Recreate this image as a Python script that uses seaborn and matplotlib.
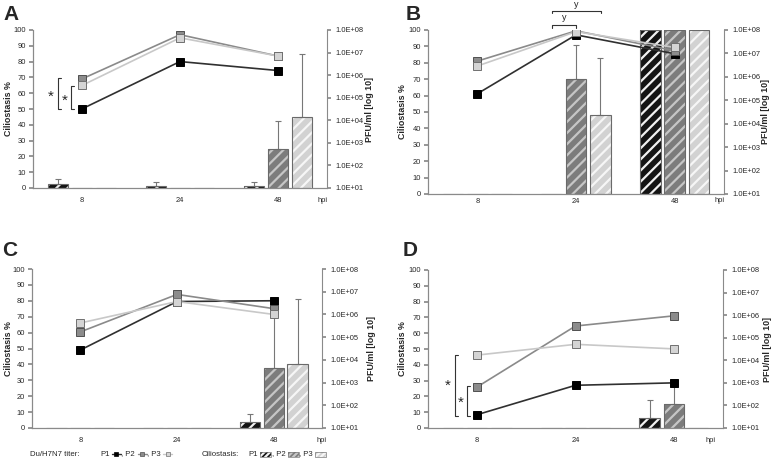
import matplotlib
matplotlib.use('Agg')
import matplotlib.pyplot as plt
import seaborn as sns
import pandas as pd
from matplotlib.patches import Rectangle
from matplotlib.lines import Line2D

# categories
hpi = ['8', '24', '48']
passages = ['P1', 'P2', 'P3']

# ciliostasis % (bars) and upper error
cilio_A = {'P1': [2.5, 1, 1], 'P2': [0, 0, 25], 'P3': [0, 0, 45]}
err_A = {'P1': [3, 2.5, 2.5], 'P2': [0, 0, 17.5], 'P3': [0, 0, 39.5]}
cilio_B = {'P1': [0, 0, 100], 'P2': [0, 70, 100], 'P3': [0, 48, 100]}
err_B = {'P1': [0, 0, 0], 'P2': [0, 21, 0], 'P3': [0, 35, 0]}
cilio_C = {'P1': [0, 0, 3.5], 'P2': [0, 0, 37.5], 'P3': [0, 0, 40]}
err_C = {'P1': [0, 0, 5], 'P2': [0, 0, 34], 'P3': [0, 0, 41]}
cilio_D = {'P1': [0, 0, 6.5], 'P2': [0, 0, 15], 'P3': [0, 0, 0]}
err_D = {'P1': [0, 0, 11.5], 'P2': [0, 0, 14], 'P3': [0, 0, 0]}

# Du/H7N7 titer, PFU/ml (lines)
titer_A = {'P1': [3.2e4, 4.0e6, 1.6e6], 'P2': [6.8e5, 6.2e7, 7.0e6], 'P3': [3.5e5, 4.5e7, 7.0e6]}
titer_B = {'P1': [1.9e5, 6.2e7, 9.7e6], 'P2': [4.7e6, 9.2e7, 1.3e7], 'P3': [2.9e6, 8.5e7, 1.8e7]}
titer_C = {'P1': [2.7e4, 3.7e6, 4.0e6], 'P2': [1.7e5, 7.6e6, 1.8e6], 'P3': [4.2e5, 3.7e6, 1.0e6]}
titer_D = {'P1': [39, 780, 1.0e3], 'P2': [660, 3.3e5, 9.3e5], 'P3': [1.7e4, 5.1e4, 3.2e4]}

bar_face = {'P1': '#141414', 'P2': '#7c7c7c', 'P3': '#d2d2d2'}
bar_hatch = {'P1': '#f0f0f0', 'P2': '#c6c6c6', 'P3': '#f6f6f6'}
line_col = {'P1': '#303030', 'P2': '#8a8a8a', 'P3': '#c8c8c8'}
mk_face = {'P1': '#000000', 'P2': '#8c8c8c', 'P3': '#d4d4d4'}
mk_edge = {'P1': '#000000', 'P2': '#505050', 'P3': '#707070'}

sns.set_theme(style='white')
plt.rcParams['font.family'] = ['Liberation Sans', 'DejaVu Sans']
plt.rcParams['hatch.linewidth'] = 1.6

W, H = 774, 463
fig = plt.figure(figsize=(W / 100, H / 100), dpi=100)
GREY = '#8a8a8a'
TFS = 5.4


def box(l, r, t, b):
    return [l / W, 1 - b / H, (r - l) / W, (b - t) / H]


def draw_panel(rect, cilio, err, titer, pad, hpi_dx, lab_l, lab_r):
    l, r, t, b = rect
    ax = fig.add_axes(box(*rect))
    df = pd.DataFrame([(h, p, cilio[p][i]) for p in passages for i, h in enumerate(hpi)],
                      columns=['hpi', 'passage', 'cilio'])
    sns.barplot(df, x='hpi', y='cilio', hue='passage', order=hpi, hue_order=passages,
                palette=bar_face, width=0.74, gap=0.15, errorbar=None, legend=False,
                linewidth=0, ax=ax)
    bars = list(ax.patches)
    for k, bar in enumerate(bars):
        p = passages[k // 3]
        i = k % 3
        bar.set_hatch('///')
        bar.set_edgecolor(bar_hatch[p])
        x0, w, h = bar.get_x(), bar.get_width(), bar.get_height()
        ax.add_patch(Rectangle((x0, 0), w, h, fill=False, edgecolor='#6a6a6a', lw=0.8, zorder=3))
        if err[p][i] > 0:
            ax.errorbar(x0 + w / 2, h, yerr=[[0], [err[p][i]]], fmt='none', ecolor='#777777',
                        elinewidth=0.8, capsize=2, capthick=0.8, zorder=2)
    ax.set_xlim(-0.5, 2.5)
    ax.set_ylim(0, 100)
    ax.set_yticks(range(0, 101, 10))
    ax.set_xticks([0, 1, 2])
    ax.set_xticklabels(hpi)
    ax.set_xticks([0.5, 1.5], minor=True)
    ax.tick_params(axis='x', which='major', length=0, pad=pad * 0.72 - 2, labelsize=TFS)
    ax.tick_params(axis='x', which='minor', length=3, direction='inout', color=GREY, bottom=True)
    ax.tick_params(axis='y', length=3, color=GREY, labelsize=TFS, pad=2, left=True)
    ax.set_xlabel('')
    ax.set_ylabel('Ciliostasis %', fontsize=6.4, fontweight='bold')
    ax.yaxis.set_label_coords(-lab_l / (r - l), 0.5)
    ax.annotate('hpi', xy=(1, 0), xycoords='axes fraction', xytext=(hpi_dx * 0.72, -pad * 0.72),
                textcoords='offset points', ha='center', va='center', fontsize=TFS)

    ax2 = ax.twinx()
    ax2.set_yscale('log')
    for p in passages:
        sns.lineplot(x=[0, 1, 2], y=titer[p], ax=ax2, color=line_col[p], linewidth=1.2,
                     marker='s', markersize=5.2, markerfacecolor=mk_face[p],
                     markeredgecolor=mk_edge[p], markeredgewidth=0.7)
    ax2.set_ylim(1e1, 1e8)
    ax2.set_yticks([10 ** k for k in range(1, 9)])
    ax2.set_yticklabels(['1.0E+%02d' % k for k in range(1, 9)])
    ax2.minorticks_off()
    ax2.tick_params(axis='y', length=3, color=GREY, labelsize=TFS, pad=3, right=True)
    ax2.set_ylabel('PFU/ml [log 10]', fontsize=6.4, fontweight='bold')
    ax2.yaxis.set_label_coords(1 + lab_r / (r - l), 0.5)
    ax2.set_xlim(-0.5, 2.5)
    for a in (ax, ax2):
        a.spines['top'].set_visible(False)
        for s in ('left', 'right', 'bottom'):
            a.spines[s].set_color(GREY)
            a.spines[s].set_linewidth(0.8)
    ax.spines['right'].set_visible(False)
    return ax


def bracket(ax, x, y0, y1, star_x, star_y):
    ax.plot([x + 0.03, x, x, x + 0.03], [y0, y0, y1, y1], color='#333333', lw=0.8, clip_on=False)
    ax.text(star_x, star_y, '*', fontsize=11, ha='center', va='center', clip_on=False)


axA = draw_panel((33, 327, 30, 188), cilio_A, err_A, titer_A, 12, -4, 20, 38)
axB = draw_panel((428, 724, 30, 194), cilio_B, err_B, titer_B, 7, -4, 21, 37)
axC = draw_panel((32, 322, 269, 428), cilio_C, err_C, titer_C, 12, 0, 19, 45)
axD = draw_panel((428, 723, 270, 428), cilio_D, err_D, titer_D, 12, -12, 21, 40)

bracket(axA, -0.245, 50, 69.5, -0.316, 58)
bracket(axA, -0.112, 50, 64.5, -0.173, 55)
bracket(axD, -0.225, 7.5, 46, -0.297, 26.5)
bracket(axD, -0.103, 7.5, 26.5, -0.164, 16)

# y brackets above panel B
for x0, x1, yb, yl in [(0.757, 1.0, 103, 107.5), (0.757, 1.253, 111.6, 115.5)]:
    axB.plot([x0, x0, x1, x1], [yb - 1.5, yb, yb, yb - 1.5], color='#333333', lw=0.8, clip_on=False)
    axB.text((x0 + x1) / 2, yl, 'y', fontsize=6.5, ha='center', va='center', clip_on=False)

for letter, x, y in [('A', 11, 15), ('B', 413, 15), ('C', 10, 251), ('D', 410, 251)]:
    fig.text(x / W, 1 - y / H, letter, fontsize=15, fontweight='bold', ha='center', va='center')

# legend row, laid out left to right
yf = 1 - 454 / H
fs = 5.6
renderer = fig.canvas.get_renderer()


def put_text(x, s):
    t = fig.text(x / W, yf, s, fontsize=fs, va='center')
    return t.get_window_extent(renderer).x1 + 2.5


put_text(30, 'Du/H7N7 titer:')
x = 100
for p in passages:
    x = put_text(x, ('' if p == 'P1' else ', ') + p)
    fig.add_artist(Line2D([x / W, (x + 9) / W], [yf, yf], color=line_col[p], lw=1,
                          transform=fig.transFigure))
    fig.add_artist(Line2D([(x + 4.5) / W], [yf], marker='s', markersize=3.3, markerfacecolor=mk_face[p],
                          markeredgecolor=mk_edge[p], markeredgewidth=0.5, transform=fig.transFigure))
    x += 9.5
put_text(202, 'Ciliostasis:')
x = 248
for p in passages:
    x = put_text(x, ('' if p == 'P1' else ', ') + p)
    fig.add_artist(Rectangle((x / W, yf - 2.5 / H), 11 / W, 5 / H, facecolor=bar_face[p],
                             edgecolor=bar_hatch[p], hatch='//////', lw=0, transform=fig.transFigure))
    fig.add_artist(Rectangle((x / W, yf - 2.5 / H), 11 / W, 5 / H, fill=False,
                             edgecolor='#777777', lw=0.5, transform=fig.transFigure))
    x += 11.5

fig.savefig('out.png', dpi=100)
